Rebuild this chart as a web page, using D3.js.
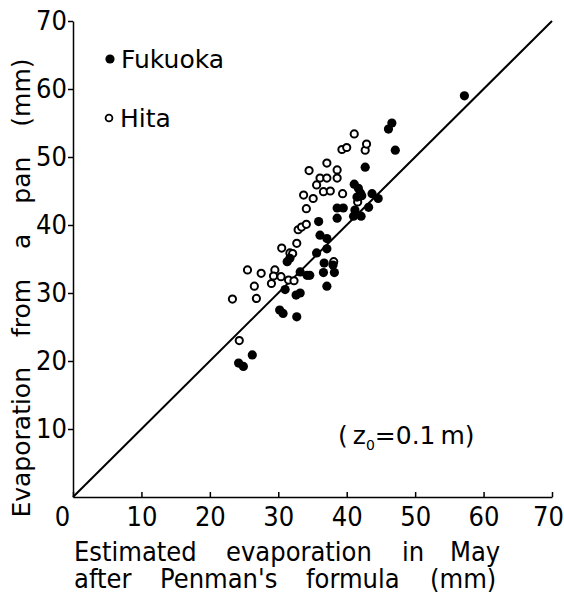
<!DOCTYPE html>
<html>
<head>
<meta charset="utf-8">
<script src="https://cdn.jsdelivr.net/npm/d3@7"></script>
<style>
body { margin: 0; background: #fff; }
text { font-family: "DejaVu Sans", sans-serif; fill: #000; }
.narrow { font-family: "DejaVu Sans Condensed", "DejaVu Sans", sans-serif; }
</style>
</head>
<body>
<div id="plot"></div>
<script>
// Fukuoka (filled dots)
var fukuokaX = [24.2, 24.9, 26.2, 30.2, 30.7, 32.7, 31.0, 32.6, 33.2, 33.2, 34.2, 34.6, 36.6, 38.2, 37.1,
    36.7, 38.0, 35.6, 37.1, 36.1, 37.1, 35.9, 38.6, 39.5, 38.6, 41.1, 41.7, 42.0, 41.5, 42.2,
    43.7, 44.6, 41.2, 42.1, 41.0, 43.2, 42.7, 46.6, 46.1, 47.1, 57.2, 31.7, 31.3];
var fukuokaY = [19.7, 19.2, 20.9, 27.5, 27.0, 26.5, 30.5, 29.7, 30.0, 33.1, 32.6, 32.6, 33.0, 33.0, 31.0,
    34.4, 34.1, 35.9, 36.5, 38.5, 38.0, 40.5, 42.5, 42.5, 41.0, 46.0, 45.4, 44.7, 44.1, 44.3,
    44.6, 43.9, 42.2, 41.3, 41.3, 42.6, 48.5, 55.0, 54.1, 51.0, 59.0, 35.1, 34.6];
// Hita (open circles)
var hitaX = [23.3, 24.3, 25.5, 26.5, 26.8, 27.5, 29.0, 29.5, 29.3, 30.4, 31.5, 32.3, 30.5, 31.7, 32.1,
    32.7, 32.9, 33.4, 34.1, 38.1, 34.1, 33.7, 35.1, 36.6, 37.6, 39.4, 36.1, 37.1, 35.6, 38.6,
    38.6, 34.5, 37.1, 39.3, 40.0, 42.7, 42.9, 41.1, 41.6];
var hitaY = [29.1, 23.0, 33.4, 31.0, 29.2, 32.9, 31.4, 33.4, 32.5, 32.4, 31.9, 31.8, 36.6, 35.9, 35.8,
    37.3, 39.3, 39.7, 40.1, 34.6, 42.4, 44.4, 43.9, 44.9, 45.0, 44.6, 46.9, 46.9, 45.9, 48.1,
    46.9, 48.0, 49.1, 51.1, 51.4, 51.0, 51.9, 53.4, 43.4];

var xTicks = [0, 10, 20, 30, 40, 50, 60, 70];
var yTicks = [10, 20, 30, 40, 50, 60, 70];
var xTitle = [["Estimated", "evaporation", "in", "May"], ["after", "Penman's", "formula", "(mm)"]];
var yTitle = "Evaporation from a pan (mm)";
var legendNames = ["Fukuoka", "Hita"];

var width = 564;
var height = 597;

var svg = d3.select("#plot").append("svg").attr("width", width).attr("height", height);

var xScale = d3.scaleLinear().domain([0, 70]).range([73, 552]);
var yScale = d3.scaleLinear().domain([0, 70]).range([497, 21]);

var xAxis = svg.append("g")
    .attr("transform", "translate(0," + yScale(0) + ")")
    .call(d3.axisBottom(xScale).tickValues(xTicks).tickSize(-5).tickSizeOuter(0).tickPadding(10));

var yAxis = svg.append("g")
    .attr("transform", "translate(" + xScale(0) + ",0)")
    .call(d3.axisLeft(yScale).tickValues(yTicks).tickSize(5).tickSizeOuter(0).tickPadding(1));

[xAxis, yAxis].forEach(function(g) {
    g.attr("font-family", null).attr("font-size", null);
    g.selectAll("path, line").attr("stroke", "#000").attr("stroke-width", 1.5);
    g.selectAll("text").attr("class", "narrow").style("font-size", "27px");
});
xAxis.selectAll(".tick text").filter(function(d) { return d === 0; }).attr("x", -11);
xAxis.selectAll(".tick text").filter(function(d) { return d === 70; }).attr("x", -4);

// 1:1 line
svg.append("line")
    .attr("x1", xScale(0)).attr("y1", yScale(0))
    .attr("x2", xScale(70)).attr("y2", yScale(70))
    .attr("stroke", "#000").attr("stroke-width", 2);

svg.append("g")
    .selectAll("circle")
    .data(d3.zip(hitaX, hitaY))
    .enter()
    .append("circle")
    .attr("cx", function(d) { return xScale(d[0]); })
    .attr("cy", function(d) { return yScale(d[1]); })
    .attr("r", 3.6)
    .attr("fill", "#fff")
    .attr("stroke", "#000")
    .attr("stroke-width", 2);

svg.append("g")
    .selectAll("circle")
    .data(d3.zip(fukuokaX, fukuokaY))
    .enter()
    .append("circle")
    .attr("cx", function(d) { return xScale(d[0]); })
    .attr("cy", function(d) { return yScale(d[1]); })
    .attr("r", 4.6)
    .attr("fill", "#000");

// legend
svg.append("circle").attr("cx", 110).attr("cy", 59).attr("r", 4.6).attr("fill", "#000");
svg.append("text").attr("x", 121).attr("y", 68).style("font-size", "25px").text(legendNames[0]);
svg.append("circle").attr("cx", 109).attr("cy", 118).attr("r", 3.4)
    .attr("fill", "#fff").attr("stroke", "#000").attr("stroke-width", 1.8);
svg.append("text").attr("x", 120).attr("y", 127).style("font-size", "25px").text(legendNames[1]);

// x title, word by word as in the original lettering
var wordX = [[74, 226, 402, 450], [74, 160, 306, 430]];
xTitle.forEach(function(words, i) {
    svg.append("text")
        .attr("class", "narrow")
        .attr("y", 561 + i * 27)
        .style("font-size", "27px")
        .selectAll("tspan")
        .data(words)
        .enter()
        .append("tspan")
        .attr("x", function(d, j) { return wordX[i][j]; })
        .text(function(d) { return d; });
});

svg.append("text")
    .attr("transform", "translate(30,288) rotate(-90)")
    .attr("text-anchor", "middle")
    .style("font-size", "25px")
    .style("word-spacing", "22px")
    .text(yTitle);

// roughness note
var note = svg.append("text").attr("x", 338).attr("y", 444).style("font-size", "25px");
note.append("tspan").text("(\u2009z");
note.append("tspan").attr("dy", 6).style("font-size", "14px").text("0");
note.append("tspan").attr("dy", -6).text("=0.1\u2009m)");
</script>
</body>
</html>
